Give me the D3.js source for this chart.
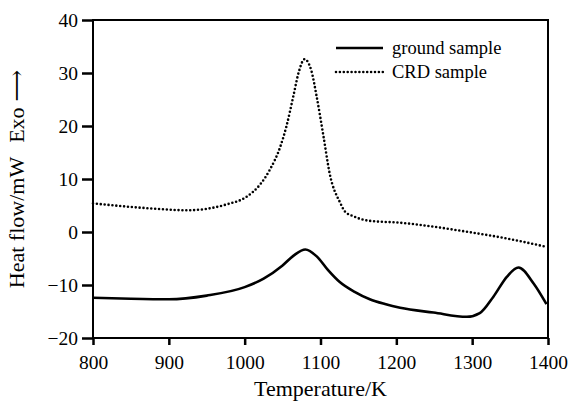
<!DOCTYPE html>
<html>
<head>
<meta charset="utf-8">
<script src="https://cdn.jsdelivr.net/npm/d3@7"></script>
<style>
  body { margin: 0; background: #fff; }
  svg text { font-family: "Liberation Serif", "Times New Roman", serif; fill: #000; }
</style>
</head>
<body>
<div id="chart"></div>
<script>
// Temperature (K) and heat flow (mW)
const groundT = [800, 850, 900, 950, 1000, 1025, 1050, 1065, 1080, 1095, 1110, 1125, 1145, 1165, 1185, 1205, 1249, 1293, 1310, 1328, 1346, 1361, 1381, 1398];
const groundQ = [-12.4, -12.6, -12.7, -12.0, -10.4, -8.8, -6.3, -4.4, -3.3, -4.6, -7.2, -9.4, -11.3, -12.7, -13.6, -14.3, -15.2, -16.0, -15.3, -12.2, -8.4, -6.7, -9.7, -13.6];

const crdT = [800, 871, 924, 976, 1003, 1020, 1033, 1047, 1055, 1064, 1071, 1079, 1088, 1095, 1104, 1112, 1126, 1132, 1143, 1165, 1205, 1249, 1293, 1337, 1398];
const crdQ = [5.4, 4.5, 4.1, 5.2, 6.7, 8.9, 11.7, 16.1, 19.9, 25.5, 30.0, 32.6, 30.4, 25.5, 18.0, 11.1, 5.5, 3.9, 3.0, 2.1, 1.75, 1.0, 0.05, -1.0, -2.8];

const xTicks = [800, 900, 1000, 1100, 1200, 1300, 1400];
const yTicks = [-20, -10, 0, 10, 20, 30, 40];

const seriesNames = ["ground sample", "CRD sample"];

const W = 569, H = 403;
const margin = { top: 20, right: 21, bottom: 65, left: 93 };
const serif = "'Liberation Serif', 'Times New Roman', serif";
const dots = "0,3.9";

const svg = d3.select("#chart").append("svg")
    .attr("width", W)
    .attr("height", H);

const x = d3.scaleLinear().domain([800, 1400]).range([margin.left, W - margin.right]);
const y = d3.scaleLinear().domain([-20, 40]).range([H - margin.bottom, margin.top]);

// frame
svg.append("rect")
    .attr("x", x(800)).attr("y", y(40))
    .attr("width", x(1400) - x(800)).attr("height", y(-20) - y(40))
    .attr("fill", "none").attr("stroke", "#000").attr("stroke-width", 2);

// x axis
const xAxis = svg.append("g")
    .attr("transform", `translate(0,${y(-20)})`)
    .call(d3.axisBottom(x).tickValues(xTicks).tickSize(7).tickPadding(10).tickFormat(d3.format("d")));
xAxis.attr("font-family", serif).attr("font-size", null);
xAxis.select(".domain").remove();
xAxis.selectAll("line").attr("stroke-width", 2.5);
xAxis.selectAll("text").style("font-size", "19.5px").style("font-family", serif);

// y axis
const yAxis = svg.append("g")
    .attr("transform", `translate(${x(800)},0)`)
    .call(d3.axisLeft(y).tickValues(yTicks).tickSize(11).tickPadding(4));
yAxis.attr("font-family", serif).attr("font-size", null);
yAxis.select(".domain").remove();
yAxis.selectAll("line").attr("stroke-width", 2.5);
yAxis.selectAll("text").style("font-size", "19.5px").style("font-family", serif);

// axis titles
svg.append("text")
    .attr("x", (x(800) + x(1400)) / 2)
    .attr("y", 396)
    .attr("text-anchor", "middle")
    .style("font-size", "22px")
    .text("Temperature/K");

const yTitle = svg.append("text")
    .attr("transform", `translate(24,${(y(40) + y(-20)) / 2}) rotate(-90)`)
    .attr("text-anchor", "middle")
    .style("font-size", "22px");
yTitle.append("tspan").text("Heat flow/mW");
yTitle.append("tspan").attr("dx", 14).text("Exo");
yTitle.append("tspan").attr("dx", 6)
    .style("font-family", "'DejaVu Serif', 'DejaVu Sans', serif")
    .text("\u27F6");

// curves
const line = d3.line()
    .x(d => x(d[0]))
    .y(d => y(d[1]))
    .curve(d3.curveMonotoneX);

const groundData = d3.zip(groundT, groundQ);
const crdData = d3.zip(crdT, crdQ);

svg.append("path")
    .datum(crdData)
    .attr("d", line)
    .attr("fill", "none")
    .attr("stroke", "#000")
    .attr("stroke-width", 2.6)
    .attr("stroke-linecap", "round")
    .attr("stroke-dasharray", dots);

svg.append("path")
    .datum(groundData)
    .attr("d", line)
    .attr("fill", "none")
    .attr("stroke", "#000")
    .attr("stroke-width", 2.6);

// legend
const legend = svg.append("g").attr("transform", "translate(336,48)");
seriesNames.forEach((name, i) => {
    const g = legend.append("g").attr("transform", `translate(0,${i * 24})`);
    const l = g.append("line")
        .attr("x1", 0).attr("x2", 47)
        .attr("y1", 0).attr("y2", 0)
        .attr("stroke", "#000");
    if (i === 0) {
        l.attr("stroke-width", 2.6);
    } else {
        l.attr("stroke-width", 2.6)
         .attr("stroke-linecap", "round")
         .attr("stroke-dasharray", dots);
    }
    g.append("text")
        .attr("x", 56).attr("y", 6)
        .style("font-size", "18.5px")
        .text(name);
});
</script>
</body>
</html>
